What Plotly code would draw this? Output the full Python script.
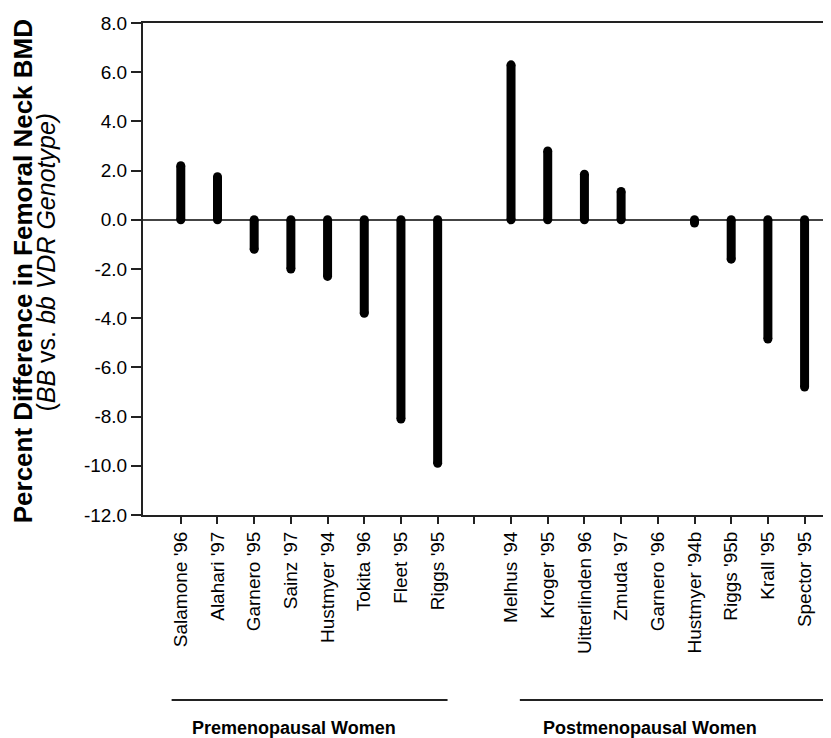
import plotly.graph_objects as go

# ---- data ----
categories = ["Salamone '96", "Alahari '97", "Garnero '95", "Sainz '97", "Hustmyer '94",
              "Tokita '96", "Fleet '95", "Riggs '95", "",
              "Melhus '94", "Kroger '95", "Uitterlinden 96", "Zmuda '97", "Garnero '96",
              "Hustmyer '94b", "Riggs '95b", "Krall '95", "Spector '95"]
values = [2.2, 1.75, -1.2, -2.0, -2.3, -3.8, -8.1, -9.9, None,
          6.3, 2.8, 1.85, 1.15, None, -0.13, -1.6, -4.85, -6.8]
y_tickvals = [8, 6, 4, 2, 0, -2, -4, -6, -8, -10, -12]
y_ticktext = ["8.0", "6.0", "4.0", "2.0", "0.0", "-2.0", "-4.0", "-6.0", "-8.0", "-10.0", "-12.0"]
groups = ["Premenopausal Women", "Postmenopausal Women"]
group_spans = [(-0.25, 7.27), (9.24, 18.5)]
group_label_x = [3.08, 12.78]

FONT = "Liberation Sans, Arial, sans-serif"
idx = list(range(len(categories)))

lx, ly, mx, my = [], [], [], []
for i, v in zip(idx, values):
    if v is None:
        continue
    lx += [i, i, None]
    ly += [0, v, None]
    mx += [i, i]
    my += [0, v]

fig = go.Figure()
fig.add_trace(go.Scatter(x=lx, y=ly, mode="lines",
                         line=dict(color="black", width=9), hoverinfo="skip",
                         showlegend=False))
fig.add_trace(go.Scatter(x=mx, y=my, mode="markers",
                         marker=dict(color="black", size=9, line=dict(width=0)),
                         hoverinfo="skip", showlegend=False))

# page body has an 8px margin; figure sized so it ends at the window edge
fig.update_layout(
    width=823, height=730,
    margin=dict(l=135, r=0, t=15, b=223),
    plot_bgcolor="white", paper_bgcolor="white",
    font=dict(family=FONT, color="black"),
    xaxis=dict(range=[-1.03, 17.72], tickvals=idx, ticktext=categories,
               tickangle=-90, tickfont=dict(size=19, family=FONT),
               ticks="outside", ticklen=7, tickwidth=1.5, tickcolor="#222",
               showline=True, linecolor="#222", linewidth=2, mirror=True,
               showgrid=False, zeroline=False),
    yaxis=dict(range=[-12, 8], tickvals=y_tickvals, ticktext=y_ticktext,
               tickfont=dict(size=19, family=FONT),
               ticks="outside", ticklen=10, tickwidth=1.5, tickcolor="#222",
               showline=True, linecolor="#222", linewidth=2,
               showgrid=False, zeroline=True, zerolinecolor="#444",
               zerolinewidth=1.5),
)

# axis titles
fig.add_annotation(text="<b>Percent Difference in Femoral Neck BMD</b>",
                   xref="paper", yref="paper", x=-0.174, y=0.496,
                   xanchor="center", yanchor="middle", textangle=-90,
                   showarrow=False, font=dict(size=26, family=FONT))
fig.add_annotation(text="(<i>BB</i> vs. <i>bb VDR Genotype)</i>",
                   xref="paper", yref="paper", x=-0.141, y=0.515,
                   xanchor="center", yanchor="middle", textangle=-90,
                   showarrow=False, font=dict(size=25, family=FONT))

# group labels
for name, (a, b), lxp in zip(groups, group_spans, group_label_x):
    fig.add_shape(type="line", xref="x", yref="paper", x0=a, x1=b,
                  y0=-0.376, y1=-0.376, line=dict(color="#222", width=2))
    fig.add_annotation(text="<b>" + name + "</b>", xref="x", yref="paper",
                       x=lxp, y=-0.433, xanchor="center", yanchor="middle",
                       showarrow=False, font=dict(size=18, family=FONT))

fig.write_html("out.html")
